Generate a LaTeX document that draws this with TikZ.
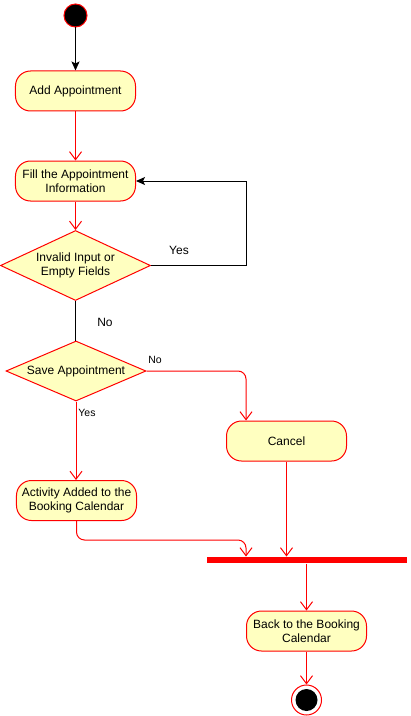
\documentclass[tikz,border=0pt]{standalone}
\usepackage{fontspec}
\setmainfont{Liberation Sans}
\usepackage{tikz}
\usetikzlibrary{shapes.geometric,arrows.meta,positioning}

\definecolor{actfill}{HTML}{FFFFC0}

\begin{document}
\begin{tikzpicture}[
    x=1bp, y=-1bp,
    line width=1bp,
    activity/.style={
        rectangle, rounded corners=15bp, draw=red, fill=actfill,
        minimum width=120bp, minimum height=40bp, align=center,
        font=\fontsize{12bp}{14bp}\selectfont
    },
    decision/.style={
        diamond, draw=red, fill=actfill, inner sep=0pt, align=center,
        font=\fontsize{12bp}{14bp}\selectfont
    },
    flow/.style={draw=red, -{Straight Barb[length=8bp,width=12bp]}},
    ctrl/.style={draw=black, -{Stealth[length=9bp,width=8bp,inset=2bp]}},
    guard/.style={font=\fontsize{12bp}{14bp}\selectfont},
    small guard/.style={font=\fontsize{10.5bp}{12bp}\selectfont}
]
\useasboundingbox (0,0) rectangle (410,716);

% Start and activities
\node[circle, draw=red, fill=black, minimum size=23bp, inner sep=0pt] (start) at (75.5,15.5) {};
\node[activity] (add) at (75.5,91) {Add Appointment};
\node[activity] (fill) at (75.5,181) {Fill the Appointment\\Information};

% Decisions
\node[decision, shape aspect=2.14, minimum width=150bp, minimum height=70bp] (invalid) at (75.5,265.5) {Invalid Input or\\Empty Fields};
\node[decision, shape aspect=2.33, minimum width=140bp, minimum height=60bp] (save) at (76,371) {Save Appointment};

% Outcomes
\node[activity] (cancel) at (286.5,441) {Cancel};
\node[activity] (added) at (76.5,500.5) {Activity Added to the\\Booking Calendar};

% Join bar and end
\node[rectangle, fill=red, minimum width=200bp, minimum height=6bp, inner sep=0pt] (bar) at (306.5,560) {};
\node[activity] (back) at (306.5,631) {Back to the Booking\\Calendar};
\node[circle, draw=red, fill=white, minimum size=30bp, inner sep=0pt] (endring) at (306.5,700) {};
\node[circle, fill=black, minimum size=22bp, inner sep=0pt] (enddot) at (306.5,700) {};

% Connectors
\draw[ctrl] (start) -- (add);
\draw[flow] (add) -- (fill);
\draw[flow] (fill) -- (invalid);

\coordinate (yesturn) at (246,265.5);
\draw[ctrl] (invalid.east) -- (yesturn) |- (fill.east);
\node[guard] (yeslbl) at (179,250) {Yes};

\draw (invalid.south) -- (invalid.south |- save.north);
\node[guard] (nolbl) at (105,322) {No};

\draw[flow, rounded corners=8bp] (save.east) -| (cancel.north -| yesturn);
\node[small guard] (nosave) at (155,360) {No};

\draw[flow] (save.south) -- (save.south |- added.north);
\node[small guard] (yessave) at (87,413) {Yes};

\coordinate (addedturn) at (76.5,540);
\draw[flow, rounded corners=8bp] (added.south) -- (addedturn) -| (bar.north -| back.west);
\draw[flow] (cancel.south) -- (cancel.south |- bar.north);
\draw[flow] (back.north |- bar.south) -- (back.north);
\draw[flow] (back.south) -- (endring.north);

\end{tikzpicture}
\end{document}
